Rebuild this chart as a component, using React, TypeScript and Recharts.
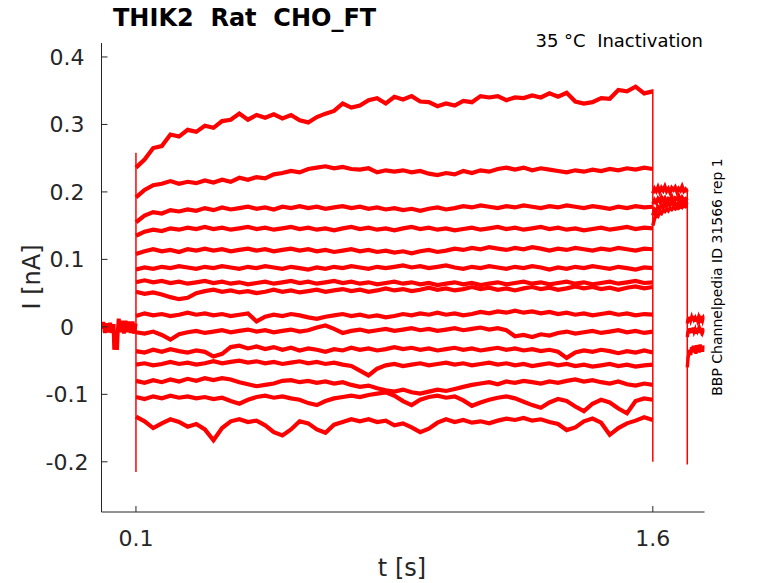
import { LineChart, Line, XAxis, YAxis } from 'recharts';

// currents in pA, times in s
const holdTimes = [0, 0.005, 0.01, 0.015, 0.02, 0.025, 0.03, 0.035, 0.037, 0.039, 0.041, 0.043, 0.045, 0.047, 0.05, 0.055, 0.06, 0.065, 0.07, 0.075, 0.08, 0.085, 0.09, 0.095, 0.099];
const holdCurrents = [-3, 7, -9, 5, -8, 6, -9, 4, -34, -12, -33, -14, -34, -8, 12, -8, 9, -10, 9, -8, 8, -9, 8, -10, 5];

const stepStart = 0.1;
const stepDt = 0.025;

const sweep1 = [236, 248, 265, 268, 285, 282, 292, 289, 298, 295, 305, 307, 316, 307, 314, 310, 315, 309, 314, 306, 303, 311, 316, 320, 331, 325, 328, 336, 339, 331, 341, 337, 342, 334, 333, 327, 331, 328, 335, 333, 342, 340, 342, 336, 340, 339, 343, 340, 346, 341, 347, 334, 331, 333, 339, 338, 351, 349, 356, 346, 349];
const sweep2 = [192, 203, 210, 212, 216, 212, 215, 213, 217, 214, 218, 215, 221, 218, 222, 220, 226, 228, 231, 229, 234, 236, 238, 235, 237, 234, 233, 235, 229, 232, 230, 232, 229, 231, 227, 225, 228, 226, 231, 228, 232, 230, 234, 236, 233, 236, 232, 235, 233, 231, 229, 232, 230, 233, 231, 234, 232, 235, 233, 236, 234];
const sweep3 = [155, 165, 170, 168, 173, 171, 174, 172, 176, 173, 177, 174, 176, 178, 175, 177, 174, 178, 176, 179, 176, 178, 175, 177, 179, 176, 178, 175, 177, 174, 176, 173, 175, 172, 175, 177, 174, 176, 179, 177, 180, 178, 176, 179, 177, 180, 178, 176, 179, 177, 180, 178, 176, 179, 177, 175, 178, 176, 179, 177, 178];
const sweep4 = [135, 141, 144, 142, 146, 144, 147, 145, 148, 145, 147, 144, 146, 148, 145, 147, 144, 146, 148, 145, 147, 144, 146, 143, 146, 148, 145, 147, 144, 146, 143, 146, 148, 145, 147, 144, 146, 143, 145, 147, 144, 146, 148, 145, 147, 144, 146, 148, 145, 147, 144, 146, 143, 145, 147, 144, 146, 148, 145, 147, 146];
const sweep5 = [108, 112, 115, 112, 114, 111, 115, 113, 116, 113, 115, 112, 114, 116, 113, 115, 112, 114, 116, 113, 115, 112, 114, 111, 113, 115, 112, 114, 111, 113, 110, 112, 109, 112, 114, 111, 113, 116, 114, 117, 115, 118, 116, 114, 117, 115, 118, 116, 113, 116, 114, 117, 115, 113, 116, 114, 117, 115, 113, 116, 115];
const sweep6 = [85, 88, 86, 89, 87, 90, 88, 86, 89, 87, 90, 88, 86, 89, 87, 90, 88, 86, 89, 87, 85, 88, 86, 89, 87, 90, 88, 86, 89, 87, 89, 91, 88, 90, 87, 89, 91, 88, 86, 89, 87, 90, 88, 86, 89, 87, 90, 88, 85, 88, 86, 89, 87, 90, 88, 86, 89, 87, 85, 88, 87];
const sweep7 = [66, 69, 66, 68, 65, 67, 64, 66, 68, 65, 67, 64, 66, 63, 65, 67, 64, 66, 68, 65, 67, 64, 66, 68, 65, 67, 64, 66, 63, 65, 67, 64, 66, 63, 65, 62, 64, 66, 63, 65, 62, 64, 66, 63, 65, 67, 64, 66, 63, 65, 67, 64, 66, 63, 65, 67, 64, 66, 68, 65, 66];
const sweep8 = [52, 49, 51, 48, 44, 41, 43, 50, 53, 55, 52, 54, 51, 53, 50, 52, 55, 52, 54, 51, 53, 55, 52, 54, 56, 53, 55, 52, 54, 57, 54, 56, 53, 55, 58, 55, 57, 54, 56, 59, 56, 58, 55, 57, 54, 57, 59, 56, 58, 55, 57, 60, 57, 59, 56, 58, 55, 58, 60, 57, 59];
const sweep9 = [16, 20, 17, 19, 16, 18, 21, 18, 20, 17, 19, 16, 18, 20, 8, 15, 18, 16, 19, 17, 14, 12, 15, 17, 19, 16, 18, 15, 17, 14, 16, 19, 17, 20, 18, 21, 18, 20, 17, 19, 22, 20, 23, 21, 24, 21, 23, 20, 22, 19, 21, 18, 20, 17, 19, 21, 18, 20, 17, 19, 18];
const sweep10 = [-8, -10, -7, -12, -19, -11, -8, -6, -9, -7, -5, -8, -6, -4, -7, -5, -8, -6, -4, -7, -5, -1, 2, -3, -9, -6, -4, -7, -5, -3, -6, -4, -2, -5, -3, -6, -4, -2, -5, -3, -1, -4, -2, -5, -14, -12, -15, -11, -13, -9, -7, -10, -8, -6, -9, -7, -5, -8, -6, -9, -7];
const sweep11 = [-36, -38, -34, -37, -33, -36, -38, -35, -37, -44, -40, -30, -28, -32, -29, -33, -30, -34, -31, -35, -32, -34, -37, -33, -35, -31, -34, -32, -35, -33, -30, -33, -31, -34, -32, -35, -33, -31, -34, -32, -35, -33, -31, -34, -32, -35, -33, -36, -34, -37, -46, -38, -35, -37, -34, -36, -39, -36, -38, -35, -38];
const sweep12 = [-56, -54, -57, -55, -52, -55, -53, -56, -54, -51, -54, -52, -50, -53, -51, -54, -52, -55, -53, -51, -54, -52, -55, -53, -56, -58, -65, -72, -62, -57, -55, -58, -56, -54, -57, -55, -53, -56, -54, -57, -55, -53, -56, -54, -57, -55, -58, -56, -54, -57, -55, -58, -56, -59, -57, -55, -58, -56, -59, -57, -56];
const sweep13 = [-80, -83, -79, -82, -78, -81, -77, -80, -76, -79, -76, -78, -82, -85, -88, -86, -84, -80, -79, -82, -80, -83, -81, -84, -82, -86, -89, -87, -91, -94, -96, -93, -97, -99, -96, -93, -95, -92, -89, -86, -84, -82, -85, -81, -83, -80, -82, -84, -81, -83, -80, -78, -81, -79, -82, -84, -81, -85, -87, -84, -86];
const sweep14 = [-104, -107, -103, -106, -102, -105, -103, -106, -104, -107, -105, -110, -114, -108, -104, -102, -105, -103, -106, -108, -113, -116, -110, -106, -104, -102, -104, -101, -99, -97, -102, -110, -116, -108, -104, -102, -105, -103, -109, -117, -112, -108, -105, -103, -106, -111, -116, -120, -112, -107, -110, -118, -125, -114, -108, -112, -121, -128, -110, -106, -108];
const sweep15 = [-133, -140, -150, -143, -137, -141, -148, -144, -152, -168, -150, -140, -137, -141, -139, -146, -156, -161, -152, -140, -143, -152, -157, -145, -141, -137, -140, -137, -141, -139, -146, -143, -149, -156, -151, -142, -137, -141, -138, -142, -140, -143, -139, -136, -138, -135, -139, -137, -141, -144, -153, -149, -140, -136, -142, -160, -150, -143, -139, -134, -138];

const tailStart = 1.6;
const tailDt = 0.005;
const tailA = [198, 205, 201, 207, 200, 206, 202, 208, 201, 205, 199, 206, 203, 207, 200, 205, 202, 208, 201, 204, 200];
const tailB = [182, 188, 184, 190, 186, 192, 187, 191, 185, 190, 188, 193, 186, 191, 189, 194, 187, 192, 188, 190, 187];
const tailC = [150, 160, 166, 164, 170, 168, 173, 171, 175, 172, 176, 174, 177, 175, 178, 176, 179, 177, 180, 178, 179];
const tailD = [165, 174, 171, 178, 175, 181, 177, 183, 179, 184, 180, 185, 181, 183, 178, 184, 180, 185, 182, 184, 181];

const postStart = 1.7;
const postDt = 0.0025;
const postA = [5, 12, 8, 15, 10, 14, 9, 16, 11, 13, 8, 15, 10, 14, 9, 13, 11, 16, 10, 14, 12];
const postB = [-15, -6, -10, -2, -8, -3, -9, -1, -7, -4, -10, -2, -6, -3, -9, -4, -7, -2, -8, -5, -6];
const postC = [-60, -45, -40, -34, -42, -30, -38, -28, -36, -31, -40, -27, -35, -30, -38, -26, -34, -29, -37, -28, -32];

// capacitive transients at the voltage steps
const spikeTimes = [0.1, 1.6, 1.7];
const spikeTops = [258, 352, 205];
const spikeBottoms = [-215, -200, -204];

const yTicks = [-0.2, -0.1, 0, 0.1, 0.2, 0.3, 0.4];
const xTicks = [0.1, 1.6];

const sweeps = [sweep1, sweep2, sweep3, sweep4, sweep5, sweep6, sweep7, sweep8, sweep9, sweep10, sweep11, sweep12, sweep13, sweep14, sweep15];
const tails = [tailA, tailB, tailC, tailD];
const posts = [postA, postB, postC];

const uniform = (start: number, dt: number, currents: number[]) =>
  currents.map((c, k) => ({ t: start + k * dt, i: c / 1000 }));

const holdData = holdCurrents.map((c, k) => ({ t: holdTimes[k], i: c / 1000 }));
const spikeData = spikeTimes.map((t, k) => [
  { t, i: spikeTops[k] / 1000 },
  { t, i: spikeBottoms[k] / 1000 },
]);

const RED = '#ff0000';
const AXIS = '#262626';
const FONT = '"DejaVu Sans", sans-serif';

const PLOT_LEFT = 101.5;
const PLOT_BOTTOM = 512;

function YTick({ y, payload }: any) {
  return (
    <g>
      <line x1={PLOT_LEFT} x2={PLOT_LEFT + 6} y1={y} y2={y} stroke={AXIS} strokeWidth={1} />
      <text x={67} y={y} dy="0.36em" textAnchor="middle" fontSize={22} fontFamily={FONT} fill={AXIS}>
        {String(payload.value)}
      </text>
    </g>
  );
}

function XTick({ x, payload }: any) {
  return (
    <g>
      <line x1={x} x2={x} y1={PLOT_BOTTOM} y2={PLOT_BOTTOM - 6} stroke={AXIS} strokeWidth={1} />
      <text x={x} y={538} dy="0.36em" textAnchor="middle" fontSize={22} fontFamily={FONT} fill={AXIS}>
        {String(payload.value)}
      </text>
    </g>
  );
}

export default function App() {
  return (
    <div style={{ position: 'absolute', left: 0, top: 0, width: 778, height: 583, background: '#fff' }}>
      <LineChart width={778} height={583} margin={{ top: 43, right: 73.5, bottom: 31, left: 0 }}>
        <XAxis
          dataKey="t"
          type="number"
          domain={[0, 1.75]}
          ticks={xTicks}
          height={40}
          axisLine={{ stroke: AXIS }}
          tickLine={false}
          tick={<XTick />}
          allowDataOverflow
        />
        <YAxis
          dataKey="i"
          type="number"
          domain={[-0.2744, 0.4207]}
          ticks={yTicks}
          width={101.5}
          axisLine={{ stroke: AXIS }}
          tickLine={false}
          tick={<YTick />}
          allowDataOverflow
        />
        <Line data={holdData} dataKey="i" type="linear" dot={false} stroke={RED} strokeWidth={4} isAnimationActive={false} />
        {sweeps.map((s, k) => (
          <Line
            key={`sweep-${k}`}
            data={uniform(stepStart, stepDt, s)}
            dataKey="i"
            type="linear"
            dot={false}
            stroke={RED}
            strokeWidth={4.2}
            isAnimationActive={false}
          />
        ))}
        {tails.map((s, k) => (
          <Line
            key={`tail-${k}`}
            data={uniform(tailStart, tailDt, s)}
            dataKey="i"
            type="linear"
            dot={false}
            stroke={RED}
            strokeWidth={3.6}
            isAnimationActive={false}
          />
        ))}
        {posts.map((s, k) => (
          <Line
            key={`post-${k}`}
            data={uniform(postStart, postDt, s)}
            dataKey="i"
            type="linear"
            dot={false}
            stroke={RED}
            strokeWidth={3.4}
            isAnimationActive={false}
          />
        ))}
        {spikeData.map((d, k) => (
          <Line
            key={`spike-${k}`}
            data={d}
            dataKey="i"
            type="linear"
            dot={false}
            stroke={RED}
            strokeWidth={1.5}
            isAnimationActive={false}
          />
        ))}
      </LineChart>
      <svg width={778} height={583} style={{ position: 'absolute', left: 0, top: 0, pointerEvents: 'none' }}>
        <text x={113} y={26} fontSize={24} fontWeight="bold" fontFamily={FONT} fill="#000">
          THIK2{'\u00a0\u00a0'}Rat{'\u00a0\u00a0'}CHO_FT
        </text>
        <text x={703} y={47} textAnchor="end" fontSize={18} fontFamily={FONT} fill="#000">
          35 °C{'\u00a0\u00a0'}Inactivation
        </text>
        <text x={402} y={576} textAnchor="middle" fontSize={24} fontFamily={FONT} fill={AXIS}>
          t [s]
        </text>
        <text
          x={40}
          y={277}
          textAnchor="middle"
          fontSize={24}
          fontFamily={FONT}
          fill={AXIS}
          transform="rotate(-90 40 277)"
        >
          I [nA]
        </text>
        <text
          x={722}
          y={277}
          textAnchor="middle"
          fontSize={14}
          fontFamily={FONT}
          fill="#000"
          transform="rotate(-90 722 277)"
        >
          BBP Channelpedia ID 31566 rep 1
        </text>
      </svg>
    </div>
  );
}
